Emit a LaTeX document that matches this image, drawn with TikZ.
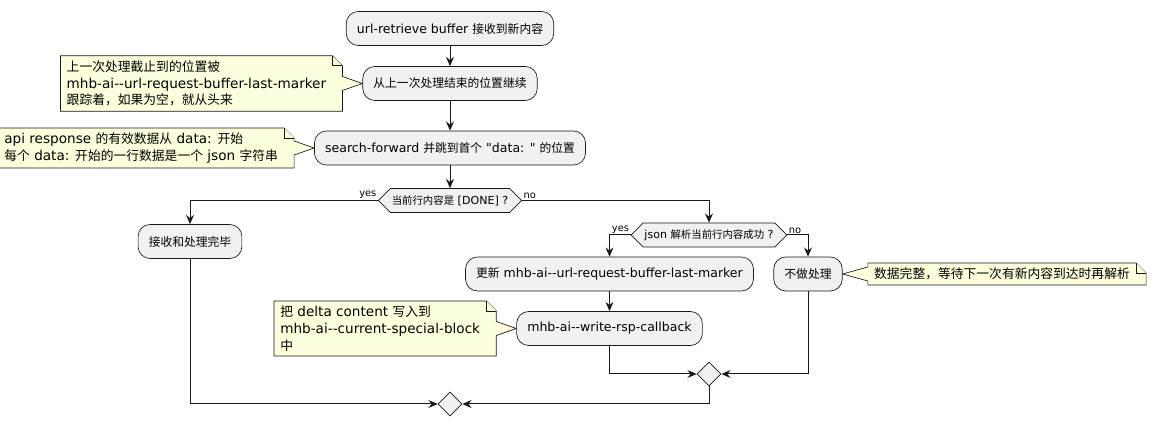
\documentclass[tikz,border=0pt]{standalone}
\usepackage{fontspec}
\setmainfont{DejaVu Sans}[Ligatures=TeXOff]
\newfontfamily\zhfont[Scale=0.94]{Noto Sans CJK SC}
\newcommand{\zh}[1]{{\zhfont #1}}
\usetikzlibrary{shapes.geometric, shapes.symbols, positioning, arrows.meta, calc, backgrounds}

\definecolor{actfill}{HTML}{F1F1F1}
\definecolor{notefill}{HTML}{FEFFDD}
\definecolor{linecol}{HTML}{181818}

\tikzset{
  act/.style={draw=linecol, line width=0.5pt, fill=actfill, rounded corners=9pt, minimum height=25.5pt, inner xsep=8pt, font=\fontsize{9.4}{11}\selectfont},
  test/.style={draw=linecol, line width=0.5pt, fill=actfill, signal, signal to=west and east, minimum height=18pt, inner xsep=1pt, font=\fontsize{8.3}{10}\selectfont},
  merge/.style={draw=linecol, line width=0.5pt, fill=actfill, diamond, minimum width=18pt, minimum height=18pt, inner sep=0pt},
  notetext/.style={align=left, inner xsep=4.5pt, inner ysep=3.5pt, font=\fontsize{10.2}{12.5}\selectfont},
  notebg/.style={draw=linecol, line width=0.5pt, fill=notefill},
  flow/.style={draw=linecol, line width=0.75pt, -{Stealth[length=7pt, width=6pt, inset=2.5pt]}},
  lbl/.style={font=\fontsize{7.4}{9}\selectfont, inner sep=1pt},
}

% note with its pointer on the right side
\newcommand{\noteright}[2]{%
  \draw[notebg] (#1.south west) -- (#1.north west) -- (#1.north east)
    -- ($(#1.north east)+(7.5pt,-7.5pt)$) -- ($(#1.east |- #2)+(7.5pt,5.25pt)$)
    -- (#2) -- ($(#1.east |- #2)+(7.5pt,-5.25pt)$) -- ($(#1.south east)+(7.5pt,0)$) -- cycle;
  \draw[notebg] (#1.north east) -- ($(#1.north east)+(0,-7.5pt)$) -- ($(#1.north east)+(7.5pt,-7.5pt)$);
}
% note with its pointer on the left side
\newcommand{\noteleft}[2]{%
  \draw[notebg] (#1.south west) -- ($(#1.west |- #2)+(0,-5.25pt)$) -- (#2)
    -- ($(#1.west |- #2)+(0,5.25pt)$) -- (#1.north west) -- (#1.north east)
    -- ($(#1.north east)+(7.5pt,-7.5pt)$) -- ($(#1.south east)+(7.5pt,0)$) -- cycle;
  \draw[notebg] (#1.north east) -- ($(#1.north east)+(0,-7.5pt)$) -- ($(#1.north east)+(7.5pt,-7.5pt)$);
}

\begin{document}
\begin{tikzpicture}[x=0.75pt, y=-0.75pt]
    \useasboundingbox (0,0) rectangle (1154,427);

    \node[act] (recv) at (450, 28.5) {url-retrieve buffer \zh{接收到新内容}};
    \node[act] (resume) at (450, 83.5) {\zh{从上一次处理结束的位置继续}};
    \node[act] (search) at (450, 148) {search-forward \zh{并跳到首个} "data: " \zh{的位置}};
    \node[test] (isdone) at (450, 200.5) {\zh{当前行内容是} [DONE] ?};
    \node[act] (finish) at (190, 241.5) {\zh{接收和处理完毕}};
    \node[test] (isjson) at (709, 235) {json \zh{解析当前行内容成功} ?};
    \node[act] (update) at (609.5, 274) {\zh{更新} mhb-ai--url-request-buffer-last-marker};
    \node[act] (skip) at (808, 274) {\zh{不做处理}};
    \node[act] (write) at (609.5, 328.5) {mhb-ai--write-rsp-callback};
    \node[merge] (join1) at (709, 374) {};
    \node[merge] (join2) at (450, 404) {};

    \node[notetext, left=22.5pt of resume] (nmarker) {\zh{上一次处理截止到的位置被}\\mhb-ai--url-request-buffer-last-marker\\\zh{跟踪着，如果为空，就从头来}};
    \node[notetext, left=22.5pt of search] (ndata) {api response \zh{的有效数据从} data: \zh{开始}\\\zh{每个} data: \zh{开始的一行数据是一个} json \zh{字符串}};
    \node[notetext, right=19pt of skip] (nwait) {\zh{数据完整，等待下一次有新内容到达时再解析}};
    \node[notetext, left=22.5pt of write] (nblock) {\zh{把} delta content \zh{写入到}\\mhb-ai--current-special-block\\\zh{中}};

    \begin{scope}[on background layer]
      \noteright{nmarker}{resume.west}
      \noteright{ndata}{search.west}
      \noteleft{nwait}{skip.east}
      \noteright{nblock}{write.west}
    \end{scope}

    \draw[flow] (recv) -- (resume);
    \draw[flow] (resume) -- (search);
    \draw[flow] (search.south) -- (isdone.north);
    \draw[flow] (isdone.west) -| (finish.north);
    \draw[flow] (isdone.east) -| (isjson.north);
    \draw[flow] (isjson.west) -| (update.north);
    \draw[flow] (isjson.east) -| (skip.north);
    \draw[flow] (update) -- (write);
    \draw[flow] (write.south) |- (join1.west);
    \draw[flow] (skip.south) |- (join1.east);
    \draw[flow] (join1.south) |- (join2.east);
    \draw[flow] (finish.south) |- (join2.west);

    \node[lbl, anchor=south east] at (isdone.west) {yes};
    \node[lbl, anchor=south west] at (isdone.east) {no};
    \node[lbl, anchor=south east] at (isjson.west) {yes};
    \node[lbl, anchor=south west] at (isjson.east) {no};
\end{tikzpicture}
\end{document}
